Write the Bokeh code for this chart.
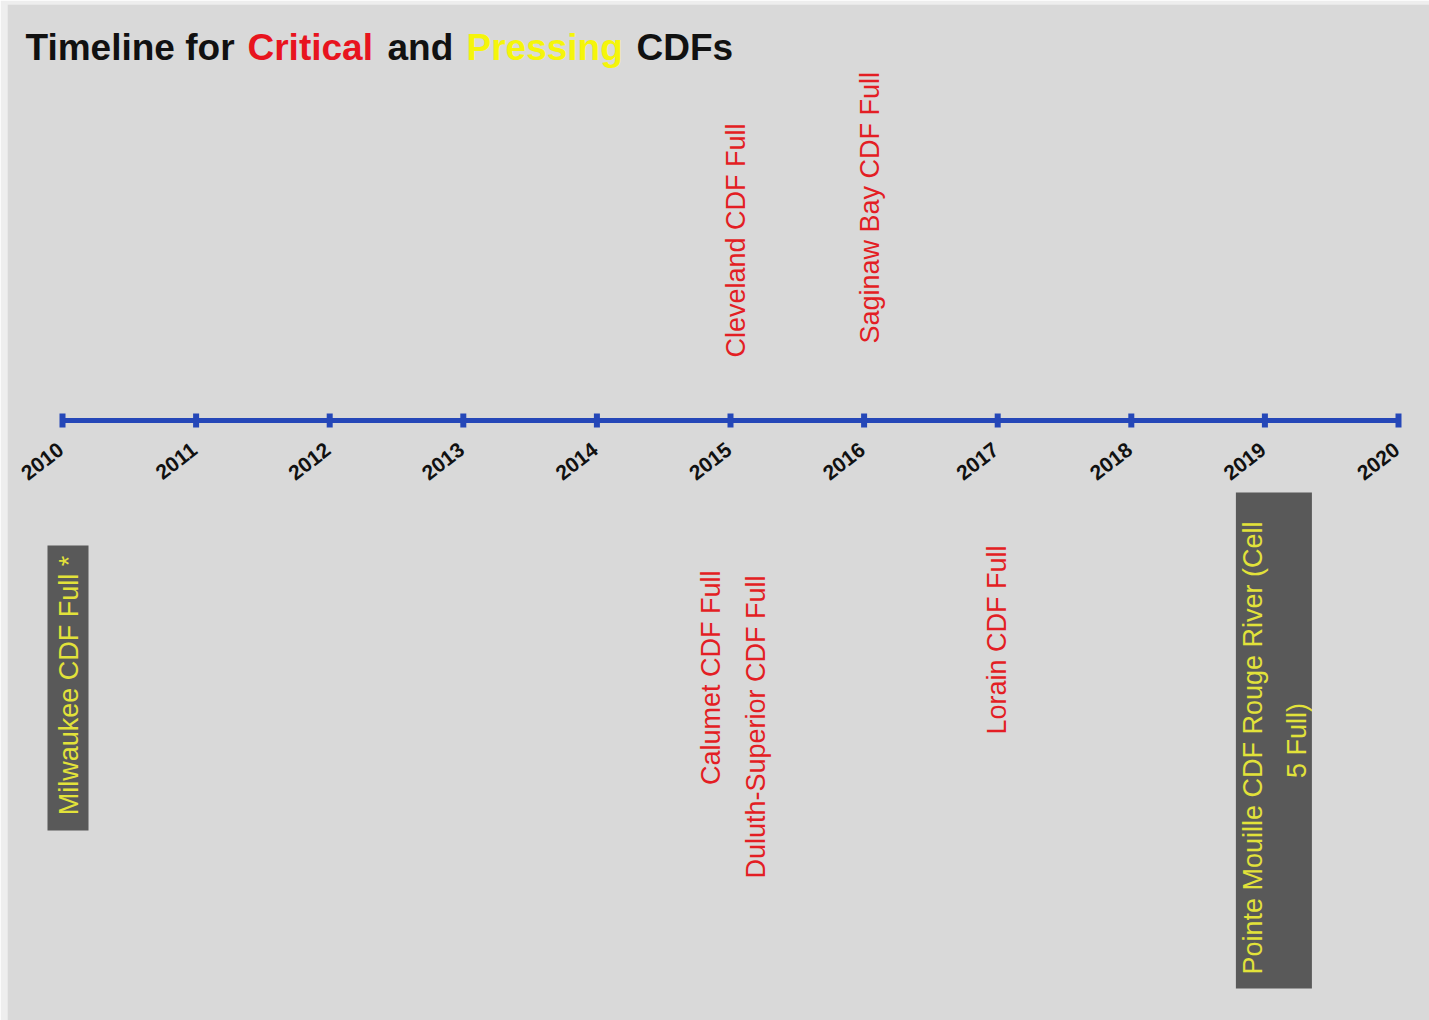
import numpy as np
from bokeh.plotting import figure
from bokeh.models import Range1d
from bokeh.core.properties import value
from bokeh.embed import file_html
from bokeh.resources import INLINE

# ---------------- data ----------------
years = list(range(2010, 2021))
year_labels = [str(y) for y in years]

event_labels = [
    "Milwaukee CDF Full *",
    "Cleveland CDF Full",
    "Calumet CDF Full",
    "Duluth-Superior CDF Full",
    "Saginaw Bay CDF Full",
    "Lorain CDF Full",
    "Pointe Mouille CDF  Rouge River  (Cell\n5 Full)",
]
event_years = [2010, 2015, 2015, 2015, 2016, 2017, 2019]
event_status = ["Pressing", "Critical", "Critical", "Critical", "Critical", "Critical", "Pressing"]

title_words = ["Timeline for", "Critical", "and", "Pressing", "CDFs"]

# ---------------- styles / layout ----------------
status_color = {"Critical": "#e31e24", "Pressing": "#ecec1e"}
box_text_color = "#e2e23a"
title_colors = ["#111111", "#e8141e", "#111111", "#f5f50a", "#111111"]
title_x_px = [25, 247, 387, 466, 636]

W, H = 1429, 1020
LB, TB = 7, 4
X2010, X2020 = 62, 1398
PPY = (X2020 - X2010) / 10.0
x_start = 2010 - (X2010 - LB) / PPY
x_end = 2020 + (W - X2020) / PPY

def px_to_x(px):
    return x_start + (px - LB) / PPY

AXIS_Y = 420
# per-event layout: x offset (px), y anchor (px), alignment
ev_dx = [6, 5, -20, 25, 6, -1, 10]
ev_y = [685, 357, 570, 575, 343, 545, 740]
ev_align = ["center", "left", "right", "right", "left", "right", "center"]
# boxes for pressing events: (x offset of centre, y top, y bottom, width)
box_layout = {0: (5.5, 545, 830, 41), 6: (9, 492, 988, 76)}

p = figure(width=W, height=H,
           x_range=Range1d(x_start, x_end), y_range=Range1d(H, TB),
           x_axis_type=None, y_axis_type=None,
           output_backend="svg", toolbar_location=None,
           min_border_left=LB, min_border_top=TB, min_border_right=0, min_border_bottom=0,
           background_fill_color="#d9d9d9", border_fill_color="#eeeeee",
           outline_line_color=None)
p.grid.visible = False

# title
for word, col, px in zip(title_words, title_colors, title_x_px):
    p.text(x=[px_to_x(px)], y=[47], text=[word], text_color=col,
           text_font=value("Liberation Sans"), text_font_size="37px",
           text_font_style="bold", text_baseline="alphabetic", text_align="left")

# timeline
line_color = "#2547b8"
p.line(x=[years[0], years[-1]], y=[AXIS_Y, AXIS_Y], line_color=line_color, line_width=5)
p.scatter(x=years, y=[AXIS_Y] * len(years), marker="dash", angle=np.pi / 2,
          size=14, line_width=6, line_color=line_color)

# year labels
p.text(x=years, y=[441] * len(years), text=year_labels, angle=np.deg2rad(38),
       text_align="right", text_baseline="top", x_offset=-6,
       text_font=value("Liberation Sans"), text_font_size="21px",
       text_font_style="bold", text_color="#111111")

# boxes for pressing events
for i, (dx, ytop, ybot, w) in box_layout.items():
    p.rect(x=[event_years[i] + dx / PPY], y=[(ytop + ybot) / 2], width=[w],
           height=[ybot - ytop], width_units="screen", fill_color="#595959",
           line_color=None)

# event labels
for i, lab in enumerate(event_labels):
    col = box_text_color if event_status[i] == "Pressing" else status_color["Critical"]
    p.text(x=[event_years[i]], y=[ev_y[i]], text=[lab], angle=np.pi / 2,
           x_offset=ev_dx[i], text_align=ev_align[i], text_baseline="middle",
           text_font=value("Liberation Sans"), text_font_size="27px",
           text_color=col, text_line_height=1.45)

open("out.html", "w").write(file_html(p, INLINE))
